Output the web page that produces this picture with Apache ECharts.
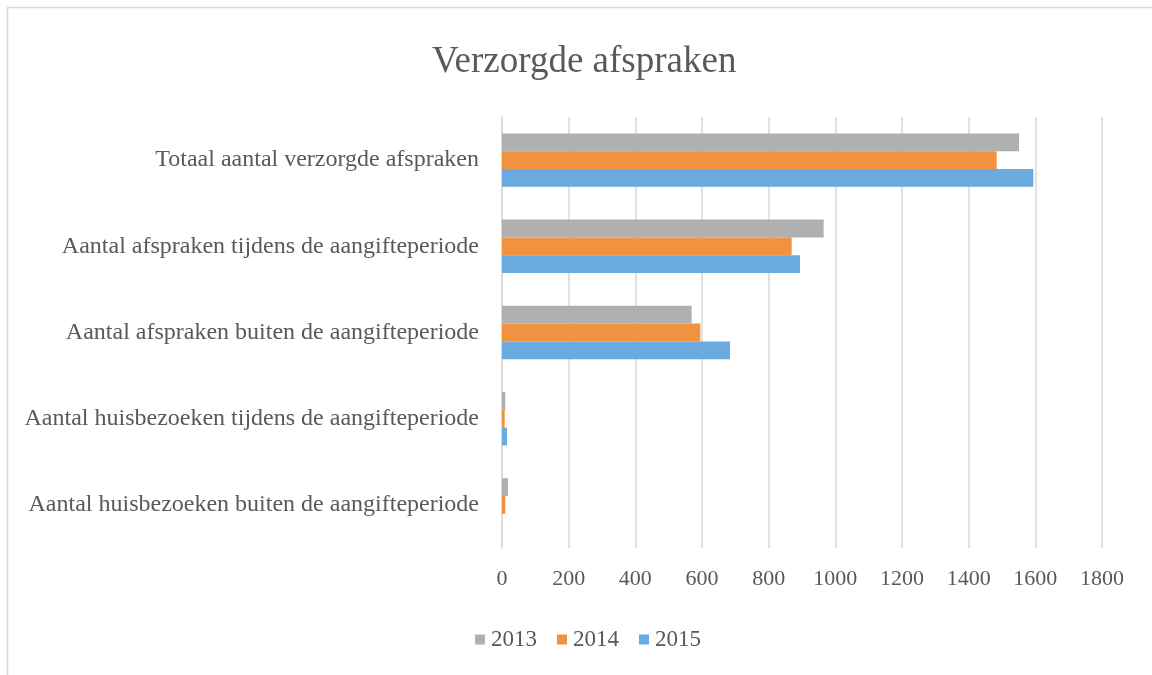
<!DOCTYPE html>
<html>
<head>
<meta charset="utf-8">
<script src="https://cdn.jsdelivr.net/npm/echarts@6/dist/echarts.min.js"></script>
<style>
  html, body { margin: 0; padding: 0; background: #fff; }
  #chart { width: 1152px; height: 675px; }
</style>
</head>
<body>
<div id="chart"></div>
<script>
const categories = [
  "Totaal aantal verzorgde afspraken",
  "Aantal afspraken tijdens de aangifteperiode",
  "Aantal afspraken buiten de aangifteperiode",
  "Aantal huisbezoeken tijdens de aangifteperiode",
  "Aantal huisbezoeken buiten de aangifteperiode"
];
const years = ["2013", "2014", "2015"];
const values2013 = [1551, 965, 569, 10, 18];
const values2014 = [1484, 869, 595, 8, 10];
const values2015 = [1594, 894, 684, 15, 0];
const xTicks = [0, 1800, 200]; // min, max, interval

const textColor = "#595959";
const fontFamily = "'Liberation Serif', 'DejaVu Serif', serif";

const chart = echarts.init(document.getElementById("chart"), null, { renderer: "canvas" });

const option = {
  animation: false,
  color: ["#b0b0b0", "#f0923f", "#6aaade"],
  textStyle: { fontFamily: fontFamily, color: textColor },
  title: {
    text: "Verzorgde afspraken",
    left: 427,
    top: 39,
    textStyle: { fontFamily: fontFamily, fontSize: 37, fontWeight: "normal", color: textColor }
  },
  graphic: [{
    type: "rect",
    shape: { x: 7.5, y: 7.5, width: 1160, height: 680 },
    style: { fill: "none", stroke: "#d9d9d9", lineWidth: 1.5 },
    silent: true
  }],
  legend: {
    data: years,
    top: 623,
    left: 470,
    itemWidth: 10,
    itemHeight: 10,
    itemGap: 20,
    icon: "rect",
    textStyle: { fontFamily: fontFamily, fontSize: 23, color: textColor, padding: [0, 0, 0, 1] }
  },
  grid: { left: 502, right: 50, top: 117, bottom: 127, containLabel: false },
  xAxis: {
    type: "value",
    min: xTicks[0],
    max: xTicks[1],
    interval: xTicks[2],
    axisLine: { show: false },
    axisTick: { show: false },
    axisLabel: {
      fontFamily: fontFamily, fontSize: 22, color: textColor, margin: 20,
      formatter: function (v) { return String(v); }
    },
    splitLine: { show: true, lineStyle: { color: "#d9d9d9", width: 1.5 } }
  },
  yAxis: {
    type: "category",
    data: categories,
    inverse: true,
    axisLine: { show: true, lineStyle: { color: "#d9d9d9", width: 1.5 } },
    axisTick: { show: false },
    axisLabel: { fontFamily: fontFamily, fontSize: 24, color: textColor, margin: 23 },
    splitLine: { show: false }
  },
  series: [
    { name: years[0], type: "bar", data: values2013, barGap: "0%", barCategoryGap: "38%" },
    { name: years[1], type: "bar", data: values2014, barGap: "0%", barCategoryGap: "38%" },
    { name: years[2], type: "bar", data: values2015, barGap: "0%", barCategoryGap: "38%" }
  ]
};

chart.setOption(option);
</script>
</body>
</html>
